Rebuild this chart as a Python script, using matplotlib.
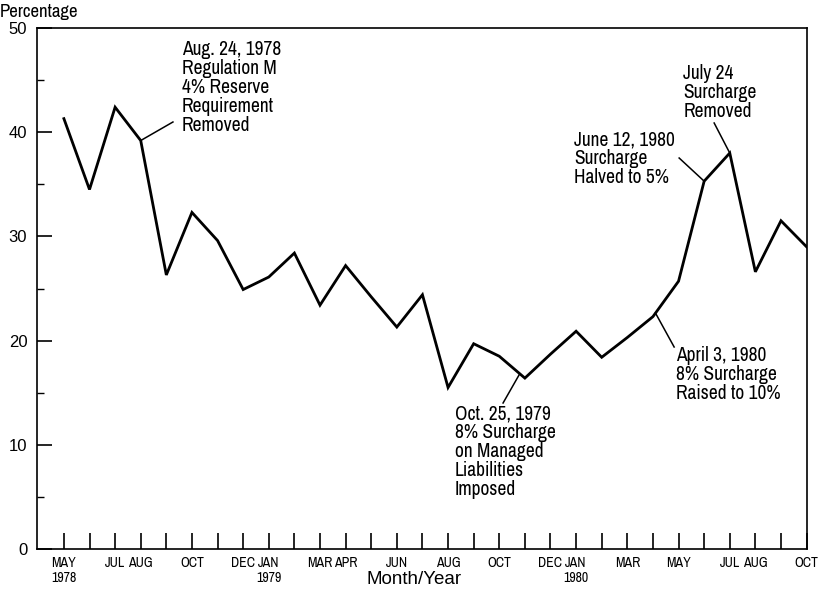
import numpy as np
import matplotlib
matplotlib.use("Agg")
import matplotlib.pyplot as plt
from matplotlib.ticker import MultipleLocator
from matplotlib import font_manager as fm

# Monthly data, May 1978 .. Oct 1980
months = ["May 78", "Jun 78", "Jul 78", "Aug 78", "Sep 78", "Oct 78", "Nov 78", "Dec 78",
          "Jan 79", "Feb 79", "Mar 79", "Apr 79", "May 79", "Jun 79", "Jul 79", "Aug 79",
          "Sep 79", "Oct 79", "Nov 79", "Dec 79", "Jan 80", "Feb 80", "Mar 80", "Apr 80",
          "May 80", "Jun 80", "Jul 80", "Aug 80", "Sep 80", "Oct 80"]
percentage = [41.3, 34.5, 42.4, 39.2, 26.3, 32.3, 29.6, 24.9,
              26.1, 28.4, 23.4, 27.2, 24.2, 21.3, 24.4, 15.5,
              19.7, 18.5, 16.4, 18.7, 20.9, 18.4, 20.3, 22.3,
              25.7, 35.3, 38.0, 26.6, 31.5, 29.0]

tick_pos = [0, 2, 3, 5, 7, 8, 10, 11, 13, 15, 17, 19, 20, 22, 24, 26, 27, 29]
tick_labels = ["MAY\n1978", "JUL", "AUG", "OCT", "DEC", "JAN\n1979", "MAR", "APR", "JUN",
               "AUG", "OCT", "DEC", "JAN\n1980", "MAR", "MAY", "JUL", "AUG", "OCT"]

# annotations: (fractional month index of event, text)
events = [3.0, 17.8, 23.1, 25.0, 26.0]
event_texts = ["Aug. 24, 1978\nRegulation M\n4% Reserve\nRequirement\nRemoved",
               "Oct. 25, 1979\n8% Surcharge\non Managed\nLiabilities\nImposed",
               "April 3, 1980\n8% Surcharge\nRaised to 10%",
               "June 12, 1980\nSurcharge\nHalved to 5%",
               "July 24\nSurcharge\nRemoved"]

# pick an upright, regular-weight condensed face if one is installed
def find_cond():
    cands = [f for f in fm.fontManager.ttflist
             if ("Narrow" in f.name or "Condensed" in f.name)
             and f.style == "normal"]
    if not cands:
        return None
    def score(f):
        w = f.weight if isinstance(f.weight, int) else 400
        return (0 if "Liberation" in f.name else 1, abs(w - 400))
    cands.sort(key=score)
    return cands[0]

cond = find_cond()
if cond is not None:
    NARROW = fm.FontProperties(fname=cond.fname)
else:
    NARROW = fm.FontProperties(family=["Roboto", "DejaVu Sans"])

def nprop(size):
    p = NARROW.copy()
    p.set_size(size)
    return p

SANS = ["Liberation Sans", "DejaVu Sans"]

W, H = 818, 594
fig = plt.figure(figsize=(W / 100, H / 100), dpi=100)
L, R, T, B = 37, 806.6, 28, 549
ax = fig.add_axes([L / W, 1 - B / H, (R - L) / W, (B - T) / H])

x = np.arange(len(percentage))
ax.plot(x, percentage, color="black", lw=2.0, solid_joinstyle="miter")

ax.set_xlim(-1.05, 29)
ax.set_ylim(0, 50)

for s in ax.spines.values():
    s.set_linewidth(1.2)

ax.yaxis.set_major_locator(MultipleLocator(10))
ax.yaxis.set_minor_locator(MultipleLocator(5))
ax.tick_params(axis="y", which="major", direction="in", length=11, width=1.2, pad=7,
               labelsize=12)
ax.tick_params(axis="y", which="minor", direction="in", length=5, width=1.0)
for lab in ax.get_yticklabels():
    lab.set_family(SANS)

ax.set_xticks(np.arange(0, 29), minor=True)
ax.set_xticks(tick_pos)
ax.set_xticklabels(tick_labels, linespacing=1.1)
for lab in ax.get_xticklabels():
    lab.set_fontproperties(nprop(10))
ax.tick_params(axis="x", which="both", direction="in", length=11.5, width=1.2, pad=5)
ax.tick_params(right=False, top=False)

fig.text(0.0, 1 - 12 / H, "Percentage", fontproperties=nprop(13.5), va="center", ha="left")
fig.text(414 / W, 1 - 580 / H, "Month/Year", fontsize=13.5, family=SANS, va="center", ha="center")

def px2data(px, py):
    xd = (px - 64) / 25.6
    yd = (B - py) / (B - T) * 50
    return xd, yd

leader_ends = [(173, 122), (503, 403), (674, 347), (679, 158), (714, 123)]
text_pos = [(182, 40), (455, 404), (676, 346), (574, 130), (683, 64)]

for ev, txt, le, tp in zip(events, event_texts, leader_ends, text_pos):
    yv = np.interp(ev, x, percentage)
    ex, ey = px2data(*le)
    ax.plot([ev, ex], [yv, ey], color="black", lw=1.1)
    tx, ty = px2data(*tp)
    ax.text(tx, ty, txt, fontproperties=nprop(14), va="top", ha="left", linespacing=1.0)

fig.savefig("out.png", dpi=100)
